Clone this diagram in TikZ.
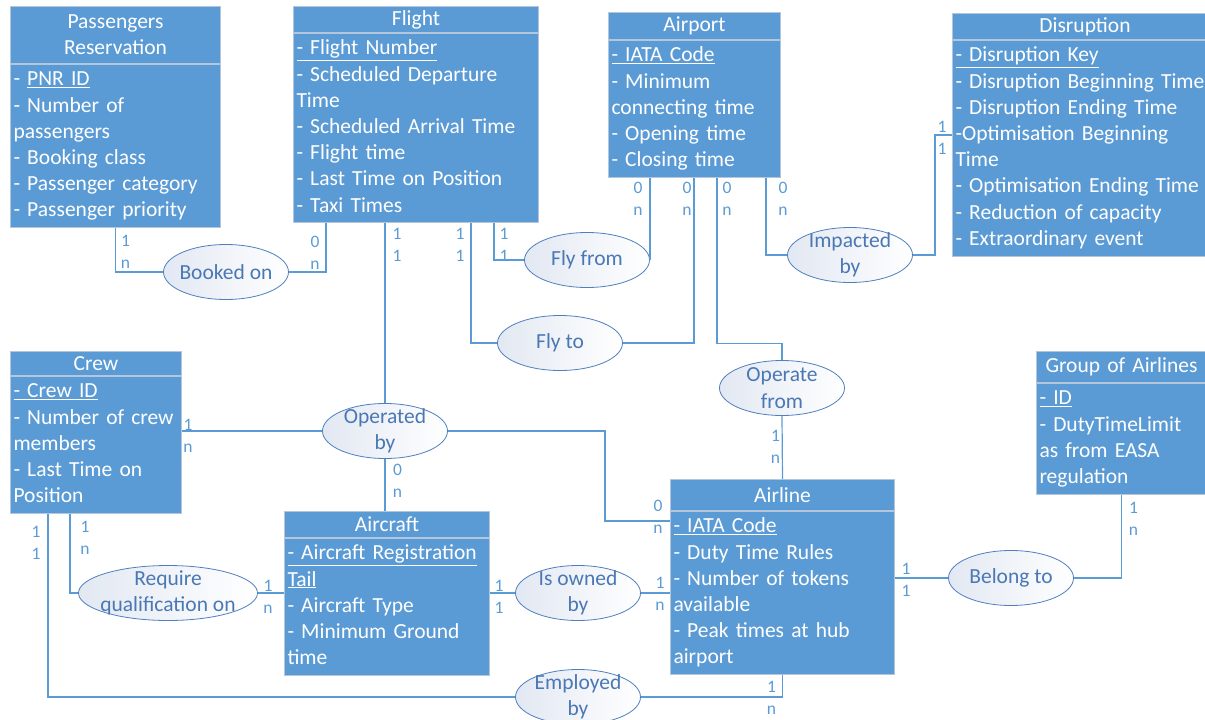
\documentclass[tikz,border=0pt]{standalone}
\usepackage{fontspec}
\setmainfont{Carlito}
\usepackage{tikz}
\usetikzlibrary{shapes.geometric}
\definecolor{boxblue}{HTML}{5B9BD5}
\definecolor{boxline}{HTML}{B4C6DC}
\definecolor{linkblue}{HTML}{5B9BD5}
\definecolor{ellline}{HTML}{4F7FBF}
\definecolor{ellfill}{HTML}{E2E8F2}
\definecolor{reltext}{HTML}{4A78B5}
\newcommand{\erfont}{\fontsize{21.5pt}{26.2pt}\selectfont}
\newcommand{\cardfont}{\fontsize{17.5pt}{22pt}\selectfont}

\begin{document}
\begin{tikzpicture}[x=1pt,y=-1pt,
		etitle/.style={draw=boxline, line width=1pt, fill=boxblue, text=white, font=\erfont, anchor=north west, align=center, inner xsep=3pt, inner ysep=0pt},
		ebody/.style={draw=boxline, line width=1pt, fill=boxblue, text=white, font=\erfont, anchor=north west, align=left, inner xsep=3pt, inner ysep=3pt},
		rel/.style={ellipse, draw=ellline, line width=0.8pt, left color=ellfill, right color=white, text=reltext, font=\erfont, align=center, inner sep=-10pt, minimum width=125pt, minimum height=55pt},
		card/.style={text=linkblue, font=\cardfont, align=center, inner sep=0pt},
		link/.style={draw=linkblue, line width=1.2pt}]
	\useasboundingbox (0,0) rectangle (1205,720);

	% entities
	\node[etitle, text width=204pt, minimum height=57pt] (passT) at (10,6) {Passengers\\Reservation};
	\node[ebody, text width=204pt] (passB) at (passT.south west) {\strut- \underline{PNR ID}\\- Number of\\passengers\\- Booking class\\- Passenger category\\- Passenger priority\strut};

	\node[etitle, text width=239pt, minimum height=26pt] (flightT) at (293,6) {Flight};
	\node[ebody, text width=239pt] (flightB) at (flightT.south west) {\strut\underline{- Flight Number}\\- Scheduled Departure\\Time\\- Scheduled Arrival Time\\- Flight time\\- Last Time on Position\\- Taxi Times\strut};

	\node[etitle, text width=166pt, minimum height=27pt] (airportT) at (608,12) {Airport};
	\node[ebody, text width=166pt] (airportB) at (airportT.south west) {\strut\underline{- IATA Code}\\- Minimum\\connecting time\\- Opening time\\- Closing time\strut};

	\node[etitle, text width=259pt, minimum height=26pt] (disruptT) at (952,13) {Disruption};
	\node[ebody, text width=259pt] (disruptB) at (disruptT.south west) {\strut\underline{- Disruption Key}\\- Disruption Beginning Time\\- Disruption Ending Time\\-Optimisation Beginning\\Time\\- Optimisation Ending Time\\- Reduction of capacity\\- Extraordinary event\strut};

	\node[etitle, text width=165pt, minimum height=24pt] (crewT) at (10,351) {Crew};
	\node[ebody, text width=165pt] (crewB) at (crewT.south west) {\strut\underline{- Crew ID}\\- Number of crew\\members\\- Last Time on\\Position\strut};

	\node[etitle, text width=199pt, minimum height=26pt] (aircraftT) at (284,511) {Aircraft};
	\node[ebody, text width=199pt] (aircraftB) at (aircraftT.south west) {\strut\underline{- Aircraft Registration}\\\underline{Tail}\\- Aircraft Type\\- Minimum Ground\\time\strut};

	\node[etitle, text width=218pt, minimum height=31pt] (airlineT) at (670,479) {Airline};
	\node[ebody, text width=218pt] (airlineB) at (airlineT.south west) {\strut\underline{- IATA Code}\\- Duty Time Rules\\- Number of tokens\\available\\- Peak times at hub\\airport\strut};

	\node[etitle, text width=164pt, minimum height=31pt] (groupT) at (1036,351) {Group of Airlines};
	\node[ebody, text width=164pt] (groupB) at (groupT.south west) {\strut\underline{- ID}\\- DutyTimeLimit\\as from EASA\\regulation\strut};

	% relationships
	\node[rel] (booked) at (226,272) {Booked on};
	\node[rel] (flyfrom) at (587,260) {Fly from};
	\node[rel] (flyto) at (560,343) {Fly to};
	\node[rel] (impacted) at (850,255) {Impacted\\by};
	\node[rel] (operfrom) at (782,388) {Operate\\from};
	\node[rel] (operated) at (385,431) {Operated\\by};
	\node[rel, minimum width=179pt] (reqqual) at (168,593) {Require\\qualification on};
	\node[rel] (owned) at (578,593) {Is owned\\by};
	\node[rel] (employed) at (578,697) {Employed\\by};
	\node[rel] (belong) at (1011,578) {Belong to};

	% connectors
	\draw[link] (passB.south) |- (booked.west);
	\draw[link] (booked.east) -| ([xshift=33pt]flightB.south west);
	\draw[link] (operated.north) -- (operated.north |- flightB.south);
	\draw[link] (operated.west) -- (operated.west -| crewB.east);
	\draw[link] (operated.south) -- (operated.south |- aircraftT.north);
	\draw[link] (operated.east) -| ([xshift=-65pt,yshift=-10pt]airlineB.north west) -- ([yshift=-10pt]airlineB.north west);
	\draw[link] ([xshift=178pt]flightB.south west) |- (flyto.west);
	\draw[link] (flyto.east) -| ([xshift=86pt]airportB.south west);
	\draw[link] ([xshift=201pt]flightB.south west) |- (flyfrom.west);
	\draw[link] (flyfrom.east) -- (flyfrom.east |- airportB.south);
	\draw[link] ([xshift=109pt]airportB.south west) |- ([yshift=17pt]operfrom.north) -- (operfrom.north);
	\draw[link] (operfrom.south) -- (airlineT.north);
	\draw[link] ([xshift=158pt]airportB.south west) |- (impacted.west);
	\draw[link] (impacted.east) -| ([xshift=-17pt,yshift=-95pt]disruptB.north west) -- ([yshift=-95pt]disruptB.north west);
	\draw[link] ([xshift=60pt]crewB.south west) |- (reqqual.west);
	\draw[link] (reqqual.east) -- (reqqual.east -| aircraftB.west);
	\draw[link] ([xshift=38pt]crewB.south west) |- (employed.west);
	\draw[link] (employed.east) -| (airlineB.south);
	\draw[link] (owned.west) -- (owned.west -| aircraftB.east);
	\draw[link] (owned.east) -- (owned.east -| airlineB.west);
	\draw[link] (belong.west) -- (belong.west -| airlineB.east);
	\draw[link] (belong.east) -| (groupB.south);

	% cardinalities
	\node[card] (cPassBk) at ([shift={(10,24)}]passB.south) {1\\n};
	\node[card] (cFlightBk) at ([shift={(22,29)}]flightB.south west) {0\\n};
	\node[card] (cFlightOp) at ([shift={(104,21)}]flightB.south west) {1\\1};
	\node[card] (cFlightTo) at ([shift={(167,21)}]flightB.south west) {1\\1};
	\node[card] (cFlightFr) at ([shift={(211,21)}]flightB.south west) {1\\1};
	\node[card] (cAirFr) at ([shift={(30,21)}]airportB.south west) {0\\n};
	\node[card] (cAirTo) at ([shift={(79,21)}]airportB.south west) {0\\n};
	\node[card] (cAirOp) at ([shift={(119,21)}]airportB.south west) {0\\n};
	\node[card] (cAirImp) at ([shift={(175,21)}]airportB.south west) {0\\n};
	\node[card] (cDisrImp) at ([shift={(-10,98)}]disruptB.north west) {1\\1};
	\node[card] (cCrewOp) at ([shift={(6,60)}]crewB.north east) {1\\n};
	\node[card] (cAcOp) at ([shift={(10.5,-30)}]aircraftT.north) {0\\n};
	\node[card] (cAlOp) at ([shift={(-12,6)}]airlineB.north west) {0\\n};
	\node[card] (cAlFr) at ([shift={(-7,-32)}]airlineT.north) {1\\n};
	\node[card] (cCrewReq) at ([shift={(75,24)}]crewB.south west) {1\\n};
	\node[card] (cAcReq) at ([shift={(-16,59)}]aircraftB.north west) {1\\n};
	\node[card] (cCrewEmp) at ([shift={(26,29)}]crewB.south west) {1\\1};
	\node[card] (cAlEmp) at ([shift={(-11,23)}]airlineB.south) {1\\n};
	\node[card] (cAcOwn) at ([shift={(9,59)}]aircraftB.north east) {1\\1};
	\node[card] (cAlOwn) at ([shift={(-10,83)}]airlineB.north west) {1\\n};
	\node[card] (cAlBel) at ([shift={(11,69)}]airlineB.north east) {1\\1};
	\node[card] (cGroupBel) at ([shift={(12,24)}]groupB.south) {1\\n};
\end{tikzpicture}
\end{document}
